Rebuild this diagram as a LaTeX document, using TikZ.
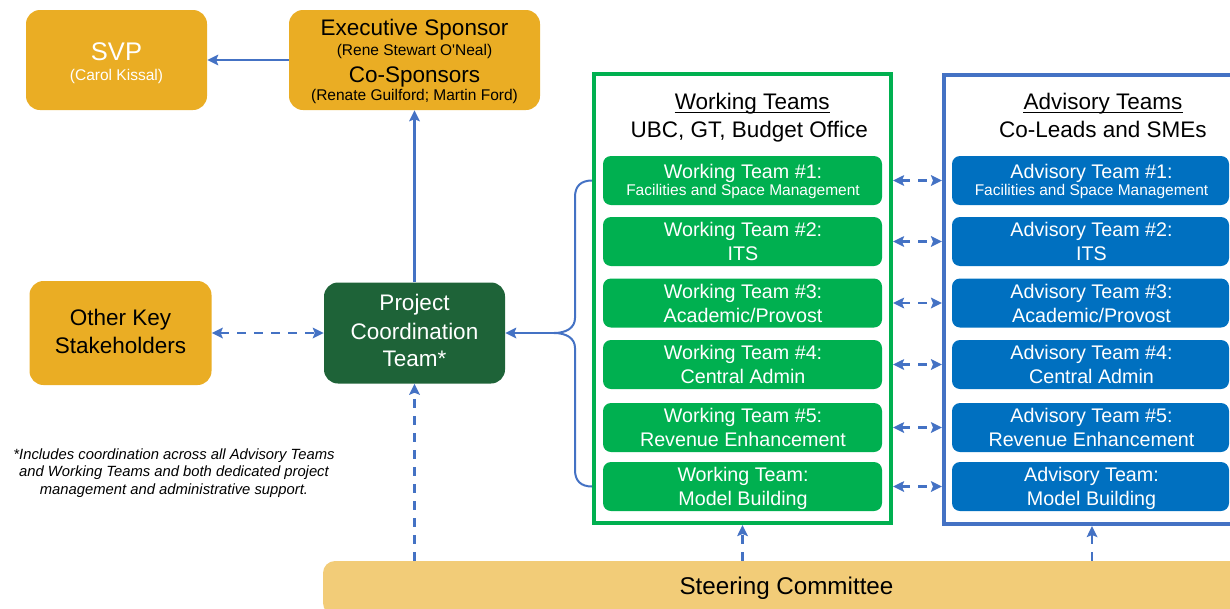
\documentclass[tikz,border=0pt]{standalone}
\usepackage{fontspec}
\setmainfont{Liberation Sans}
\usetikzlibrary{arrows.meta,calc}

\definecolor{sponsorgold}{HTML}{EAAD24}
\definecolor{steergold}{HTML}{F2CC78}
\definecolor{coordgreen}{HTML}{1E6338}
\definecolor{workgreen}{HTML}{00B050}
\definecolor{advblue}{HTML}{0070C0}
\definecolor{linkblue}{HTML}{4472C4}

\newcommand\fsz[2]{\fontsize{#1}{#2}\selectfont}

\tikzset{
  hd/.tip={Stealth[length=11pt,width=10.5pt,inset=2pt]},
  panel/.style={rounded corners=14pt, inner sep=0pt},
  goldpanel/.style={panel, fill=sponsorgold},
  txt/.style={inner sep=0pt, anchor=base},
  big/.style={txt, font=\fsz{22.5}{28}},
  small/.style={txt, font=\fsz{15.5}{18}},
  teamtxt/.style={txt, text=white, font=\fsz{19.7}{24}},
  teambox/.style={rounded corners=8pt, inner sep=0pt, minimum width=279pt, minimum height=49pt},
  wbox/.style={teambox, fill=workgreen},
  abox/.style={teambox, fill=advblue, minimum width=277pt},
  frame/.style={draw, line width=4pt, inner sep=0pt},
  link/.style={draw=linkblue, line width=2.3pt, -hd},
  dlink/.style={draw=linkblue, line width=2.5pt, dash pattern=on 9pt off 8pt},
  uline/.style={line width=1.3pt},
}

% one working team and its advisory counterpart, with the link between them
\newcommand\teampair[4]{%
  \node[wbox] (w#1) at (742.5,#2) {};
  \node[teamtxt] (w#1a) at (743,#2-5) {Working Team#3};
  \node[teamtxt] (w#1b) at (743,#2+19) {#4};
  \node[abox] (a#1) at (1090.5,#2) {};
  \node[teamtxt] (a#1a) at (1091.5,#2-5) {Advisory Team#3};
  \node[teamtxt] (a#1b) at (1091.5,#2+19) {#4};
  \draw[dlink, hd-hd] (w#1 -| wframe.east) -- (a#1 -| aframe.west);
}

\begin{document}
\begin{tikzpicture}[x=1pt,y=-1pt]
\useasboundingbox (0,0) rectangle (1230,608);
\clip (0,0) rectangle (1230,608);

% sponsors
\node[goldpanel, minimum width=181pt, minimum height=100pt] (svp) at (116.5,60) {};
\node[txt, text=white, font=\fsz{25.5}{30}] (svpName) at (116.5,60) {SVP};
\node[small, text=white] (svpPerson) at (116.5,80) {(Carol Kissal)};

\node[goldpanel, minimum width=251pt, minimum height=100pt] (exec) at (414.5,60) {};
\node[big] (execTitle) at (414.5,35) {Executive Sponsor};
\node[small] (execPerson) at (414.5,55) {(Rene Stewart O\textquotesingle Neal)};
\node[big] (coTitle) at (414.5,82) {Co-Sponsors};
\node[small] (coPeople) at (414.5,100.5) {(Renate Guilford; Martin Ford)};

% stakeholders and coordination team
\node[goldpanel, minimum width=182pt, minimum height=104pt] (others) at (120.5,333) {};
\node[big] (othersA) at (120.5,325) {Other Key};
\node[big] (othersB) at (120.5,353.3) {Stakeholders};

\node[panel, fill=coordgreen, minimum width=181pt, minimum height=101pt] (pct) at (414.5,333) {};
\node[big, text=white] (pctA) at (414.5,310.7) {Project};
\node[big, text=white] (pctB) at (414.5,339.3) {Coordination};
\node[big, text=white] (pctC) at (414.5,366.7) {Team*};

\node[inner sep=0pt, anchor=north, align=center, font=\fsz{14.8}{17.4}\itshape] (note) at (174,448.5)
  {*Includes coordination across all Advisory Teams\\and Working Teams and both dedicated project\\management and administrative support.};

% team frames and headings
\node[frame, draw=workgreen, minimum width=297pt, minimum height=449pt] (wframe) at (742.5,298.5) {};
\node[frame, draw=linkblue, minimum width=296pt, minimum height=449pt] (aframe) at (1092,299.5) {};

\node[big] (wHead) at (752.2,109.5) {Working Teams};
\draw[uline] ($(wHead.base west)+(0,3)$) -- ($(wHead.base east)+(0,3)$);
\node[big] (wSub) at (749.2,137.3) {UBC, GT, Budget Office};
\node[big] (aHead) at (1103,109.5) {Advisory Teams};
\draw[uline] ($(aHead.base west)+(0,3)$) -- ($(aHead.base east)+(0,3)$);
\node[big] (aSub) at (1102.8,137.3) {Co-Leads and SMEs};

% first row has a smaller subtitle
\node[wbox] (w1) at (742.5,180.5) {};
\node[teamtxt] (w1a) at (743,178.3) {Working Team \#1:};
\node[teamtxt, font=\fsz{15.5}{18}] (w1b) at (743,195.7) {Facilities and Space Management};
\node[abox] (a1) at (1090.5,180.5) {};
\node[teamtxt] (a1a) at (1091.5,178.3) {Advisory Team \#1:};
\node[teamtxt, font=\fsz{15.5}{18}] (a1b) at (1091.5,195.7) {Facilities and Space Management};
\draw[dlink, hd-hd] (w1 -| wframe.east) -- (a1 -| aframe.west);

\teampair{2}{241.5}{ \#2:}{ITS}
\teampair{3}{303}{ \#3:}{Academic/Provost}
\teampair{4}{364.5}{ \#4:}{Central Admin}
\teampair{5}{427.5}{ \#5:}{Revenue Enhancement}
\teampair{6}{486.5}{:}{Model Building}

% brace gathering the working teams
\coordinate (braceTip) at (554,333);
\draw[linkblue, line width=2pt]
  (w1 -| wframe.west) .. controls (581,180.5) and (575,186) .. (575,197)
  -- (575,318) .. controls (575,328) and (566,333) .. (braceTip)
  .. controls (566,333) and (575,338) .. (575,348)
  -- (575,470) .. controls (575,481) and (581,486.5) .. (w6 -| wframe.west);
\draw[link] (braceTip) -- (pct.east);

% reporting lines
\draw[link] (exec.west) -- (svp.east);
\draw[link] (pct.north) -- (exec.south);
\draw[dlink, hd-hd] (others.east) -- (pct.west);

% steering committee
\node[panel, rounded corners=12pt, fill=steergold, minimum width=927pt, minimum height=54pt,
      font=\fsz{24.2}{29}] (steer) at (786.5,588) {Steering Committee};
\draw[dlink, -hd] (steer.north -| pct.south) -- (pct.south);
\draw[dlink, -hd] (steer.north -| wframe.south) -- (wframe.south);
\draw[dlink, -hd] (steer.north -| aframe.south) -- (aframe.south);
\end{tikzpicture}
\end{document}
